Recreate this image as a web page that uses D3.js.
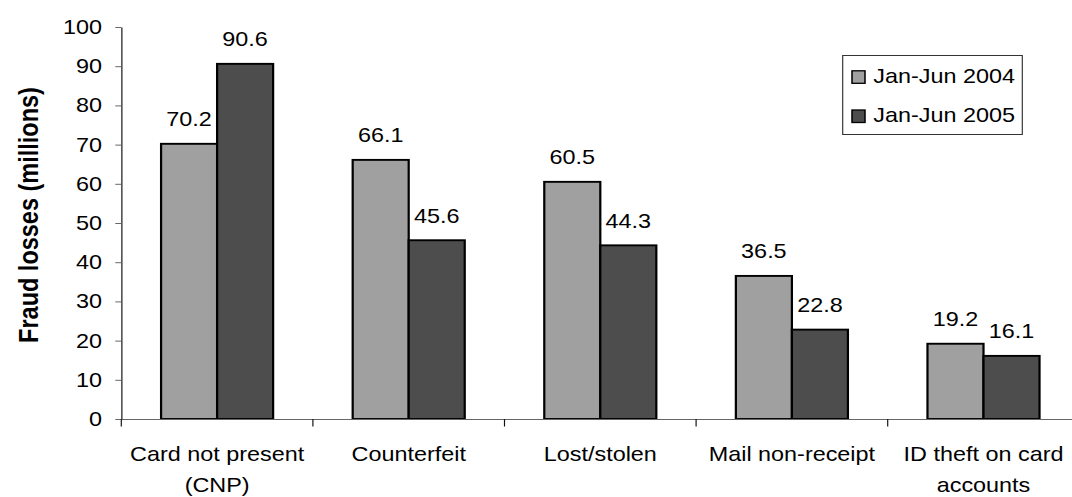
<!DOCTYPE html>
<html>
<head>
<meta charset="utf-8">
<script src="https://cdn.jsdelivr.net/npm/d3@7"></script>
<style>
  html, body { margin: 0; padding: 0; background: #fff; }
  svg { display: block; }
  text { font-family: "Liberation Sans", Arial, Helvetica, sans-serif; fill: #000; }
</style>
</head>
<body>
<svg id="chart" width="1072" height="497"></svg>
<script>
// Card fraud losses by type, first half of 2004 vs 2005 (millions)
const categories = [
  "Card not present (CNP)",
  "Counterfeit",
  "Lost/stolen",
  "Mail non-receipt",
  "ID theft on card accounts"
];
const categoryLines = [
  ["Card not present", "(CNP)"],
  ["Counterfeit"],
  ["Lost/stolen"],
  ["Mail non-receipt"],
  ["ID theft on card", "accounts"]
];
const seriesNames = ["Jan-Jun 2004", "Jan-Jun 2005"];
const values2004 = [70.2, 66.1, 60.5, 36.5, 19.2];
const values2005 = [90.6, 45.6, 44.3, 22.8, 16.1];
const yTicks = [0, 10, 20, 30, 40, 50, 60, 70, 80, 90, 100];
const seriesColors = ["#a0a0a0", "#4d4d4d"];
const yTitle = "Fraud losses (millions)";

// The drawing is laid out in a horizontally stretched frame.
const SX = 1.17;
const u = px => px / SX;

const svg = d3.select("#chart");
svg.append("rect").attr("width", 1072).attr("height", 497).attr("fill", "#fff");
const g = svg.append("g").attr("transform", `scale(${SX},1)`);

const plotLeft = 121.3, plotRight = 1079.3, plotTop = 27, plotBottom = 419;

const x0 = d3.scaleBand().domain(categories).range([u(plotLeft), u(plotRight)]).padding(0);
const x1 = d3.scaleBand().domain(seriesNames).range([0, x0.bandwidth()])
  .paddingInner(0).paddingOuter(0.71);
const y = d3.scaleLinear().domain([0, 100]).range([plotBottom, plotTop]);

const rows = categories.map((c, i) => ({
  cat: c,
  vals: [values2004[i], values2005[i]]
}));

// Bars
const groups = g.append("g").selectAll("g").data(rows).join("g")
  .attr("transform", d => `translate(${x0(d.cat)},0)`);

groups.selectAll("rect")
  .data(d => d.vals.map((v, k) => ({ s: seriesNames[k], v, k })))
  .join("rect")
  .attr("x", d => x1(d.s))
  .attr("y", d => y(d.v))
  .attr("width", x1.bandwidth())
  .attr("height", d => y(0) - y(d.v))
  .attr("fill", d => seriesColors[d.k])
  .attr("stroke", "#000")
  .attr("stroke-width", 1.9);

// Value labels
groups.selectAll("text.val")
  .data(d => d.vals.map((v, k) => ({ s: seriesNames[k], v, k })))
  .join("text")
  .attr("class", "val")
  .attr("x", d => x1(d.s) + x1.bandwidth() / 2)
  .attr("y", d => y(d.v) - 17.5)
  .attr("text-anchor", "middle")
  .style("font-size", "20px")
  .text(d => d.v.toFixed(1));

// Y axis
const yAxis = g.append("g")
  .attr("transform", `translate(${u(plotLeft)},0)`)
  .call(d3.axisLeft(y).tickValues(yTicks).tickSize(u(6)).tickSizeOuter(0).tickPadding(u(13.3)));
yAxis.select(".domain").attr("stroke", "#111").attr("stroke-width", 1);
yAxis.selectAll(".tick line").attr("stroke", "#666").attr("stroke-width", 1);
yAxis.selectAll(".tick text")
  .style("font-size", "20px")
  .style("font-family", "'Liberation Sans', Arial, sans-serif")
  .attr("fill", "#000");

// X axis: baseline and category boundary ticks
const xAxis = g.append("g").attr("transform", `translate(0,${plotBottom})`)
  .call(d3.axisBottom(x0).tickSize(0).tickPadding(0));
xAxis.select(".domain").remove();
xAxis.append("line")
  .attr("x1", u(plotLeft)).attr("x2", u(plotRight))
  .attr("y1", 0.5).attr("y2", 0.5)
  .attr("stroke", "#666").attr("stroke-width", 1);
const boundaries = categories.map(c => x0(c));
xAxis.selectAll("line.bound").data(boundaries).join("line")
  .attr("class", "bound")
  .attr("x1", d => d).attr("x2", d => d)
  .attr("y1", 0).attr("y2", 7.5)
  .attr("stroke", "#111").attr("stroke-width", 1);

xAxis.selectAll(".tick text").each(function(d, i) {
  const t = d3.select(this);
  t.text(null).attr("dy", null).attr("y", 42)
    .style("font-size", "20px")
    .style("font-family", "'Liberation Sans', Arial, sans-serif")
    .attr("fill", "#000");
  categoryLines[i].forEach((line, j) => {
    t.append("tspan").attr("x", 0).attr("dy", j === 0 ? 0 : 31).text(line);
  });
});

// Y axis title
g.append("text")
  .attr("transform", `translate(${u(38.3)},215) rotate(-90)`)
  .attr("text-anchor", "middle")
  .style("font-size", "23.5px")
  .style("font-weight", "bold")
  .text(yTitle);

// Legend
const legend = g.append("g");
legend.append("rect")
  .attr("x", u(842.7)).attr("y", 55.5)
  .attr("width", u(1022.3 - 842.7)).attr("height", 79)
  .attr("fill", "#fff").attr("stroke", "#333").attr("stroke-width", 1);
const legendRowY = [83.3, 122.5];
const items = legend.selectAll("g.item").data(seriesNames).join("g").attr("class", "item");
items.append("rect")
  .attr("x", u(852))
  .attr("y", (d, i) => legendRowY[i] - 12.5)
  .attr("width", u(13))
  .attr("height", 12.5)
  .attr("fill", (d, i) => seriesColors[i])
  .attr("stroke", "#000").attr("stroke-width", 1.3);
items.append("text")
  .attr("x", u(873.3))
  .attr("y", (d, i) => legendRowY[i])
  .style("font-size", "20px")
  .text(d => d);
</script>
</body>
</html>
